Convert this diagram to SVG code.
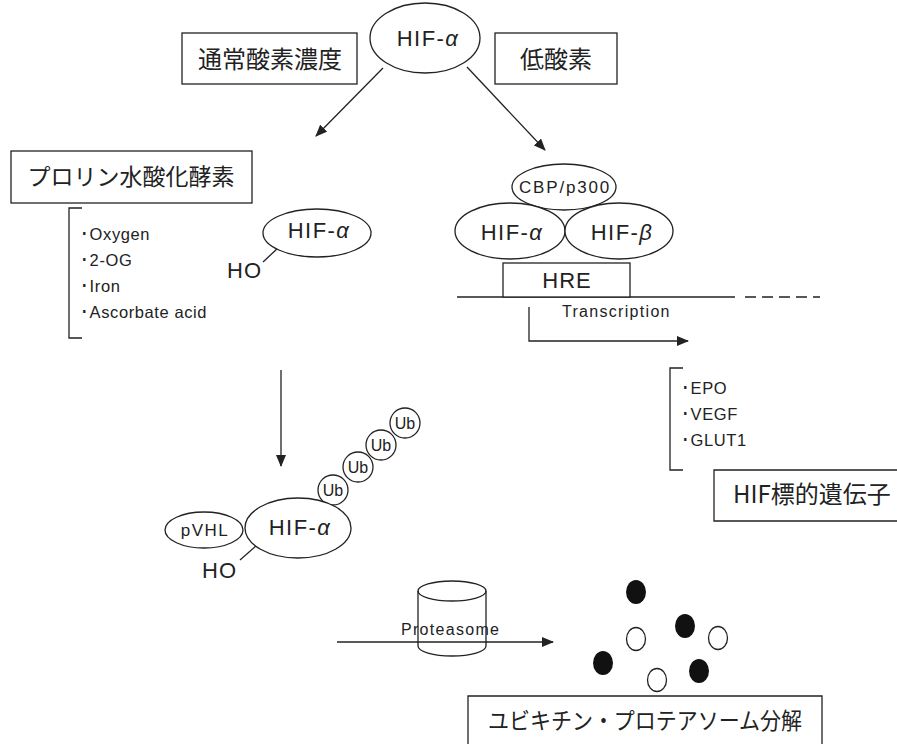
<svg xmlns="http://www.w3.org/2000/svg" width="897" height="744" viewBox="0 0 897 744">
<style>
.s{fill:none;stroke:#222;stroke-width:1.3}
.w{fill:#fff;stroke:#222;stroke-width:1.3}
.t{font-family:"Liberation Sans",Arial,sans-serif;fill:#222}
.j{font-family:"Noto Sans CJK JP","Liberation Sans",sans-serif;fill:#222}
.g{font-style:italic}
.l{font-size:16.5px;letter-spacing:0.6px}
.b{font-size:22px;letter-spacing:1.4px}
</style>
<defs>
<marker id="ah" markerWidth="12" markerHeight="10" refX="11" refY="5" orient="auto" markerUnits="userSpaceOnUse">
<path d="M0,0 L12,5 L0,10 Z" fill="#222"/>
</marker>
</defs>
<rect width="897" height="744" fill="#fff"/>

<g id="connectors">
<line class="s" x1="383" y1="68" x2="316" y2="136" marker-end="url(#ah)"/>
<line class="s" x1="467" y1="67" x2="545" y2="150" marker-end="url(#ah)"/>
<line class="s" x1="281" y1="370" x2="281" y2="466" marker-end="url(#ah)"/>
<polyline class="s" points="529,307 529,341 688,341" marker-end="url(#ah)"/>
<line class="s" x1="337" y1="642" x2="553" y2="642" marker-end="url(#ah)"/>
<line class="s" x1="263" y1="262" x2="278" y2="248"/>
<line class="s" x1="240" y1="560" x2="256" y2="546"/>
</g>

<g id="hif-top">
<ellipse class="w" cx="425" cy="38" rx="55" ry="35"/>
<text class="t b" x="428" y="46" text-anchor="middle">HIF-<tspan class="g">α</tspan></text>
</g>
<g id="normoxia">
<rect class="s" x="182" y="33" width="175" height="51"/>
<text class="j" x="270" y="68" font-size="24" text-anchor="middle">通常酸素濃度</text>
</g>
<g id="hypoxia">
<rect class="s" x="495" y="33" width="122" height="51"/>
<text class="j" x="556" y="68" font-size="24" text-anchor="middle">低酸素</text>
</g>

<g id="phd">
<rect class="s" x="11" y="151" width="241" height="52"/>
<text class="j" x="131" y="185" font-size="23" text-anchor="middle">プロリン水酸化酵素</text>
</g>
<g id="cofactors">
<polyline class="s" points="82,208 69,208 69,338 82,338"/>
<text class="t l" x="80" y="240">･Oxygen</text>
<text class="t l" x="80" y="266">･2-OG</text>
<text class="t l" x="80" y="292">･Iron</text>
<text class="t l" x="80" y="318">･Ascorbate acid</text>
</g>
<g id="hif-oh">
<ellipse class="w" cx="317" cy="233" rx="54" ry="24"/>
<text class="t b" x="319" y="238" text-anchor="middle">HIF-<tspan class="g">α</tspan></text>
<text class="t" x="227" y="278" font-size="22" letter-spacing="1">HO</text>
</g>

<g id="cbp">
<ellipse class="w" cx="564" cy="187" rx="52" ry="23"/>
<text class="t" x="565" y="193" font-size="17" letter-spacing="1.8" text-anchor="middle">CBP/p300</text>
</g>
<g id="hif-alpha-r">
<ellipse class="w" cx="510" cy="231" rx="55" ry="28"/>
<text class="t b" x="512" y="240" text-anchor="middle">HIF-<tspan class="g">α</tspan></text>
</g>
<g id="hif-beta">
<ellipse class="w" cx="619" cy="231" rx="54" ry="28"/>
<text class="t b" x="622" y="240" text-anchor="middle">HIF-<tspan class="g">β</tspan></text>
</g>
<g id="hre">
<line class="s" x1="457" y1="297" x2="735" y2="297"/>
<line class="s" x1="745" y1="297" x2="820" y2="297" stroke-dasharray="11,6"/>
<rect class="w" x="503" y="263" width="127" height="34"/>
<text class="t" x="567" y="288" font-size="22" letter-spacing="1" text-anchor="middle">HRE</text>
<text class="t" x="562" y="317" font-size="16" letter-spacing="1.3">Transcription</text>
</g>
<g id="targets">
<polyline class="s" points="683,368 670,368 670,470 683,470"/>
<text class="t l" x="681" y="394">･EPO</text>
<text class="t l" x="681" y="420">･VEGF</text>
<text class="t l" x="681" y="446">･GLUT1</text>
</g>
<g id="target-genes">
<polyline class="s" points="900,470 714,470 714,521 900,521"/>
<text class="j" x="733" y="503" font-size="24">HIF標的遺伝子</text>
</g>

<g id="ub-chain">
<circle class="w" cx="333" cy="490" r="15"/>
<text class="t" x="333" y="496" font-size="16" text-anchor="middle">Ub</text>
<circle class="w" cx="358" cy="467" r="15"/>
<text class="t" x="358" y="473" font-size="16" text-anchor="middle">Ub</text>
<circle class="w" cx="381" cy="445" r="15"/>
<text class="t" x="381" y="451" font-size="16" text-anchor="middle">Ub</text>
<circle class="w" cx="405" cy="423" r="15"/>
<text class="t" x="405" y="429" font-size="16" text-anchor="middle">Ub</text>
</g>
<g id="hif-vhl">
<ellipse class="w" cx="298" cy="528" rx="53" ry="30"/>
<text class="t b" x="300" y="535" text-anchor="middle">HIF-<tspan class="g">α</tspan></text>
<text class="t" x="202" y="578" font-size="22" letter-spacing="1">HO</text>
</g>
<g id="pvhl">
<ellipse class="w" cx="204" cy="530" rx="39" ry="18"/>
<text class="t" x="205" y="536" font-size="17" letter-spacing="1.5" text-anchor="middle">pVHL</text>
</g>

<g id="proteasome">
<path class="s" d="M418,591 L418,646 A34,10 0 0 0 486,646 L486,591"/>
<ellipse class="s" cx="452" cy="591" rx="34" ry="10"/>
<text class="t" x="401" y="635" font-size="16" letter-spacing="1.3">Proteasome</text>
</g>

<g id="fragments">
<ellipse cx="636" cy="592" rx="10" ry="12" fill="#111"/>
<ellipse cx="685" cy="626" rx="10" ry="12" fill="#111"/>
<ellipse cx="603" cy="663" rx="10" ry="12" fill="#111"/>
<ellipse cx="699" cy="671" rx="10" ry="12" fill="#111"/>
<ellipse class="w" cx="636" cy="639" rx="9.5" ry="11.5"/>
<ellipse class="w" cx="718" cy="638" rx="9.5" ry="11.5"/>
<ellipse class="w" cx="657" cy="680" rx="9.5" ry="11.5"/>
</g>

<g id="degradation">
<polyline class="s" points="468,750 468,696 822,696 822,750"/>
<text class="j" x="488" y="729" font-size="23" textLength="314" lengthAdjust="spacingAndGlyphs">ユビキチン・プロテアソーム分解</text>
</g>
</svg>
